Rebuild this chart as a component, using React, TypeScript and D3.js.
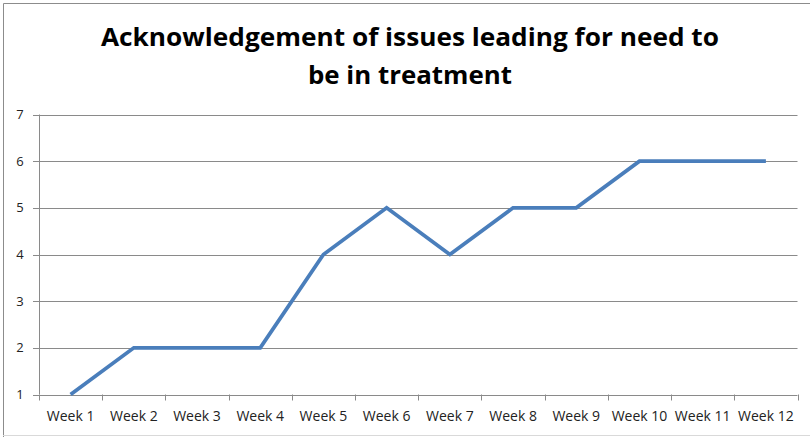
import React from "react";
import * as d3 from "d3";

const weeks = [
  "Week 1", "Week 2", "Week 3", "Week 4", "Week 5", "Week 6",
  "Week 7", "Week 8", "Week 9", "Week 10", "Week 11", "Week 12",
];
const scores = [1, 2, 2, 2, 4, 5, 4, 5, 5, 6, 6, 6];
const yTicks = [1, 2, 3, 4, 5, 6, 7];
const titleLines = ["Acknowledgement of issues leading for need to", "be in treatment"];

const W = 810;
const H = 437;
const plot = { left: 39, right: 797.5, top: 114.5, bottom: 394.5 };

export default function App() {
  const x = d3.scaleBand<string>().domain(weeks).range([plot.left, plot.right]);
  const y = d3.scaleLinear().domain([1, 7]).range([plot.bottom, plot.top]);
  const line = d3
    .line<number>()
    .x((_, i) => (x(weeks[i]) ?? 0) + x.bandwidth() / 2)
    .y((d) => y(d));

  const tickXs = weeks.map((w) => x(w) ?? 0).concat([plot.right]);

  return (
    <svg
      width={W}
      height={H}
      style={{ position: "absolute", left: 0, top: 0, background: "#fff" }}
    >
      {/* chart frame */}
      <path d={`M3.5,${H + 1} V3.5 H${W + 1}`} fill="none" stroke="#8c8c8c" strokeWidth={1} />
      <line x1={3} x2={W} y1={435.5} y2={435.5} stroke="#d9d9d9" strokeWidth={1} />

      {/* title */}
      <text
        x={410}
        y={46}
        textAnchor="middle"
        fontFamily="'Open Sans', sans-serif"
        fontWeight="bold"
        fontSize={25}
        textLength={618}
        lengthAdjust="spacingAndGlyphs"
        fill="#000"
      >
        {titleLines[0]}
      </text>
      <text
        x={410}
        y={84}
        textAnchor="middle"
        fontFamily="'Open Sans', sans-serif"
        fontWeight="bold"
        fontSize={25}
        textLength={204}
        lengthAdjust="spacingAndGlyphs"
        fill="#000"
      >
        {titleLines[1]}
      </text>

      {/* horizontal gridlines */}
      {yTicks.map((t) => (
        <line
          key={`g${t}`}
          x1={plot.left - 6}
          x2={plot.right}
          y1={Math.round(y(t)) + 0.5}
          y2={Math.round(y(t)) + 0.5}
          stroke="#8a8a8a"
          strokeWidth={1}
        />
      ))}

      {/* y axis */}
      <line
        x1={plot.left + 0.5}
        x2={plot.left + 0.5}
        y1={plot.top}
        y2={plot.bottom}
        stroke="#8a8a8a"
        strokeWidth={1}
      />
      {yTicks.map((t) => (
        <text
          key={`yl${t}`}
          x={20}
          y={y(t) + 4.5}
          textAnchor="middle"
          fontFamily="'Open Sans', sans-serif"
          fontSize={13}
          fill="#222"
        >
          {t}
        </text>
      ))}

      {/* x axis ticks */}
      {tickXs.map((tx, i) => (
        <line
          key={`xt${i}`}
          x1={Math.round(tx) + 0.5}
          x2={Math.round(tx) + 0.5}
          y1={plot.bottom}
          y2={plot.bottom + 6}
          stroke="#8a8a8a"
          strokeWidth={1}
        />
      ))}
      {weeks.map((w) => (
        <text
          key={w}
          x={(x(w) ?? 0) + x.bandwidth() / 2}
          y={421}
          textAnchor="middle"
          fontFamily="'Open Sans', sans-serif"
          fontSize={14}
          fill="#222"
        >
          {w}
        </text>
      ))}

      {/* series */}
      <path
        d={line(scores) ?? ""}
        fill="none"
        stroke="#4a7ebb"
        strokeWidth={3.75}
        strokeLinejoin="miter"
      />
    </svg>
  );
}
